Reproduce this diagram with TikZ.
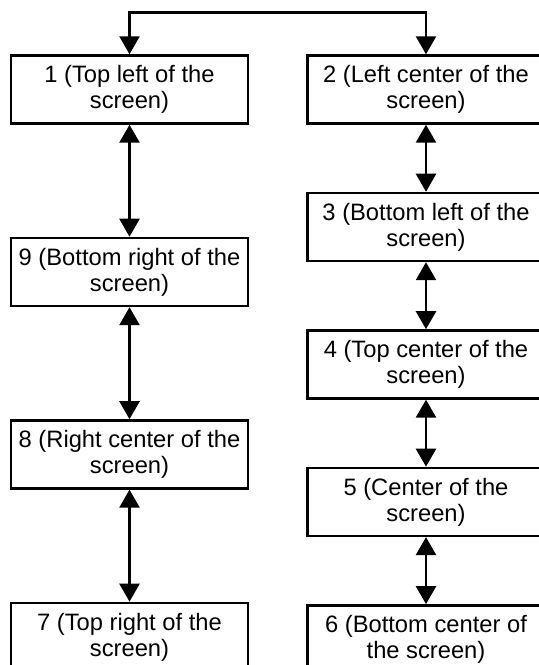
\documentclass[tikz,border=0pt]{standalone}
\usepackage{fontspec}
\setmainfont{Liberation Sans}
\usetikzlibrary{arrows.meta, positioning}

\begin{document}
\begin{tikzpicture}[
    box/.style={rectangle, draw, line width=1.4pt, minimum width=4.74cm, minimum height=1.36cm,
                inner sep=0pt, align=center, font=\fontsize{13.5}{14.8}\selectfont},
    link/.style={{Triangle[width=0.4cm, length=0.36cm]}-{Triangle[width=0.4cm, length=0.36cm]}, line width=1.4pt},
    node distance=2.24cm
  ]
    \clip (0,0) rectangle (10.78,-13.3);

    % left column
    \node[box] (n1) at (2.59,-1.79) {1 (Top left of the\\screen)};
    \node[box, below=of n1] (n9) {9 (Bottom right of the\\screen)};
    \node[box, below=of n9] (n8) {8 (Right center of the\\screen)};
    \node[box, below=of n8] (n7) {7 (Top right of the\\screen)};

    % right column
    \node[box] (n2) at (8.52,-1.79) {2 (Left center of the\\screen)};
    \node[box, below=1.34cm of n2] (n3) {3 (Bottom left of the\\screen)};
    \node[box, below=1.34cm of n3] (n4) {4 (Top center of the\\screen)};
    \node[box, below=1.34cm of n4] (n5) {5 (Center of the\\screen)};
    \node[box, below=1.34cm of n5] (n6) {6 (Bottom center of\\the screen)};

    \coordinate[above=0.84cm of n2] (top);

    \draw[link] (n1) |- (top) -- (n2);
    \draw[link] (n1) -- (n9);
    \draw[link] (n9) -- (n8);
    \draw[link] (n8) -- (n7);
    \draw[link] (n2) -- (n3);
    \draw[link] (n3) -- (n4);
    \draw[link] (n4) -- (n5);
    \draw[link] (n5) -- (n6);
  \end{tikzpicture}
\end{document}
